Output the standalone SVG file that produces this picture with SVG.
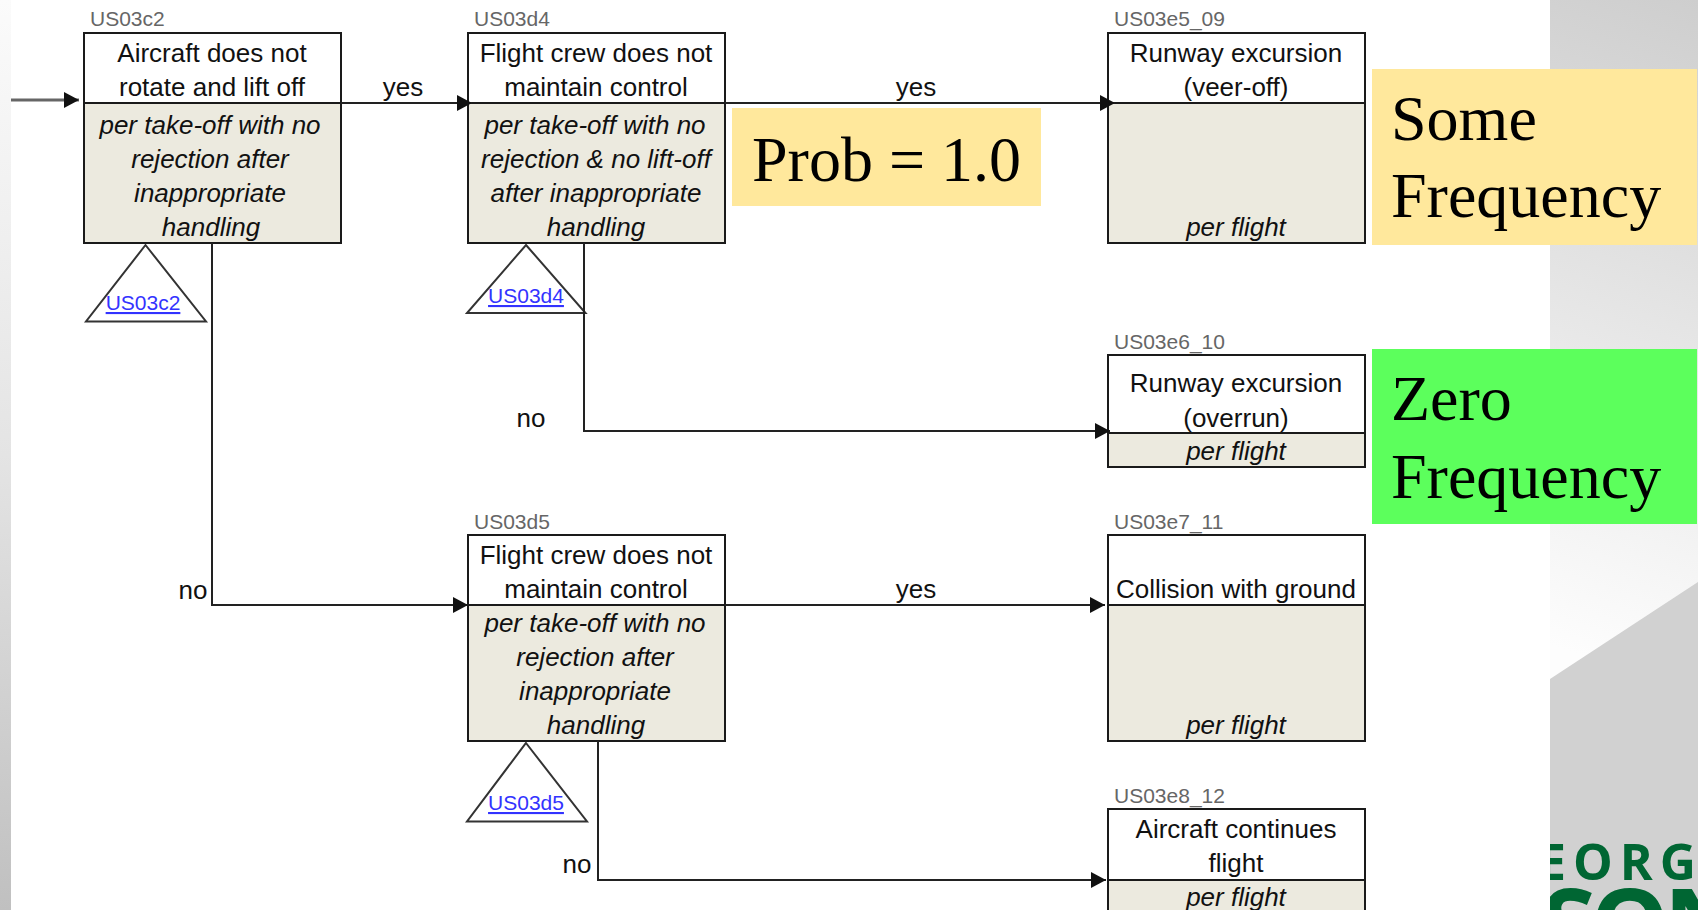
<svg xmlns="http://www.w3.org/2000/svg" width="1698" height="910" viewBox="0 0 1698 910">
<style>
.b{fill:#fff;stroke:none}
.f{fill:#eceadf;stroke:none}
.o{fill:none;stroke:#1a1a1a;stroke-width:2}
.t{font:26px "Liberation Sans",Arial,sans-serif;fill:#111;text-anchor:middle}
.i{font:italic 26px "Liberation Sans",Arial,sans-serif;fill:#111;text-anchor:middle}
.id{font:21px "Liberation Sans",Arial,sans-serif;fill:#666}
.l{font:21px "Liberation Sans",Arial,sans-serif;fill:#3333ff;text-anchor:middle;text-decoration:underline}
.s{font:64px "Liberation Serif","Times New Roman",serif;fill:#000}
.c{fill:none;stroke:#222;stroke-width:2}
.in{fill:none;stroke:#666;stroke-width:3}
.tri{fill:#fff;stroke:#333;stroke-width:2}
</style>
<defs>
<linearGradient id="g" gradientUnits="userSpaceOnUse" x1="1698" y1="0" x2="1480" y2="620">
<stop offset="0" stop-color="#cecece"/><stop offset="0.5" stop-color="#e6e6e6"/><stop offset="1" stop-color="#fdfdfd"/>
</linearGradient>
<linearGradient id="lg" x1="0" y1="0" x2="0" y2="1">
<stop offset="0" stop-color="#fbfbfb"/><stop offset="0.5" stop-color="#e4e4e4"/><stop offset="1" stop-color="#c0c0c0"/>
</linearGradient>
<marker id="a" markerUnits="userSpaceOnUse" markerWidth="15" markerHeight="16" refX="15" refY="8" orient="auto"><path d="M0 0L15 8L0 16Z" fill="#111"/></marker>
<clipPath id="cp"><rect x="1550" y="830" width="148" height="80"/></clipPath>
</defs>
<rect width="1698" height="910" fill="#fff"/>
<g id="background">
<rect x="0" y="0" width="11" height="910" fill="url(#lg)"/>
<rect x="1550" y="0" width="148" height="910" fill="url(#g)"/>
<path d="M1550 679L1698 582V910H1550Z" fill="#d1d1d1"/>
<g clip-path="url(#cp)" fill="#006633" font-family="'Open Sans','Noto Sans',sans-serif" font-weight="700">
<text x="1538" y="880" font-size="50" letter-spacing="7">EORG</text>
<text x="1541" y="961" font-size="100" letter-spacing="-6">SON</text>
</g>
</g>
<g id="US03c2">
<text class="id" x="90" y="26">US03c2</text>
<rect class="b" x="84" y="33" width="257" height="70"/><rect class="f" x="84" y="103" width="257" height="140"/>
<rect class="o" x="84" y="33" width="257" height="210"/><path class="o" d="M84 103H341"/>
<text class="t" x="212" y="62">Aircraft does not</text><text class="t" x="212" y="96">rotate and lift off</text>
<text class="i" x="210" y="134">per take-off with no</text><text class="i" x="210" y="168">rejection after</text><text class="i" x="210" y="202">inappropriate</text><text class="i" x="211" y="236">handling</text>
<path class="tri" d="M145.500 245L206 321.500H86Z"/><text class="l" x="143" y="310">US03c2</text>
</g>
<g id="US03d4">
<text class="id" x="474" y="26">US03d4</text>
<rect class="b" x="468" y="33" width="257" height="70"/><rect class="f" x="468" y="103" width="257" height="140"/>
<rect class="o" x="468" y="33" width="257" height="210"/><path class="o" d="M468 103H725"/>
<text class="t" x="596" y="62">Flight crew does not</text><text class="t" x="596" y="96">maintain control</text>
<text class="i" x="595" y="134">per take-off with no</text><text class="i" x="596" y="168">rejection &amp; no lift-off</text><text class="i" x="596" y="202">after inappropriate</text><text class="i" x="596" y="236">handling</text>
<path class="tri" d="M526 245L585.500 313H467Z"/><text class="l" x="526" y="303">US03d4</text>
</g>
<g id="US03e5_09">
<text class="id" x="1114" y="26">US03e5_09</text>
<rect class="b" x="1108" y="33" width="257" height="70"/><rect class="f" x="1108" y="103" width="257" height="140"/>
<rect class="o" x="1108" y="33" width="257" height="210"/><path class="o" d="M1108 103H1365"/>
<text class="t" x="1236" y="62">Runway excursion</text><text class="t" x="1236" y="96">(veer-off)</text>
<text class="i" x="1236" y="236">per flight</text>
</g>
<g id="US03e6_10">
<text class="id" x="1114" y="349">US03e6_10</text>
<rect class="b" x="1108" y="355" width="257" height="78"/><rect class="f" x="1108" y="433" width="257" height="34"/>
<rect class="o" x="1108" y="355" width="257" height="112"/><path class="o" d="M1108 433H1365"/>
<text class="t" x="1236" y="392">Runway excursion</text><text class="t" x="1236" y="427">(overrun)</text>
<text class="i" x="1236" y="460">per flight</text>
</g>
<g id="US03d5">
<text class="id" x="474" y="529">US03d5</text>
<rect class="b" x="468" y="535" width="257" height="70"/><rect class="f" x="468" y="605" width="257" height="136"/>
<rect class="o" x="468" y="535" width="257" height="206"/><path class="o" d="M468 605H725"/>
<text class="t" x="596" y="564">Flight crew does not</text><text class="t" x="596" y="598">maintain control</text>
<text class="i" x="595" y="632">per take-off with no</text><text class="i" x="595" y="666">rejection after</text><text class="i" x="595" y="700">inappropriate</text><text class="i" x="596" y="734">handling</text>
<path class="tri" d="M526 743L587 821.500H467Z"/><text class="l" x="526" y="810">US03d5</text>
</g>
<g id="US03e7_11">
<text class="id" x="1114" y="529">US03e7_11</text>
<rect class="b" x="1108" y="535" width="257" height="70"/><rect class="f" x="1108" y="605" width="257" height="136"/>
<rect class="o" x="1108" y="535" width="257" height="206"/><path class="o" d="M1108 605H1365"/>
<text class="t" x="1236" y="598">Collision with ground</text>
<text class="i" x="1236" y="734">per flight</text>
</g>
<g id="US03e8_12">
<text class="id" x="1114" y="803">US03e8_12</text>
<rect class="b" x="1108" y="809" width="257" height="71"/><rect class="f" x="1108" y="880" width="257" height="40"/>
<rect class="o" x="1108" y="809" width="257" height="111"/><path class="o" d="M1108 880H1365"/>
<text class="t" x="1236" y="838">Aircraft continues</text><text class="t" x="1236" y="872">flight</text>
<text class="i" x="1236" y="906">per flight</text>
</g>
<g id="connectors">
<path class="in" d="M11 100H79" marker-end="url(#a)"/>
<path class="c" d="M341 103H472" marker-end="url(#a)"/>
<path class="c" d="M725 103H1115" marker-end="url(#a)"/>
<path class="c" d="M584 243V431H1110" marker-end="url(#a)"/>
<path class="c" d="M212 243V605H468" marker-end="url(#a)"/>
<path class="c" d="M725 605H1105" marker-end="url(#a)"/>
<path class="c" d="M598 741V880H1106" marker-end="url(#a)"/>
<text class="t" x="403" y="96">yes</text>
<text class="t" x="916" y="96">yes</text>
<text class="t" x="916" y="598">yes</text>
<text class="t" x="531" y="427">no</text>
<text class="t" x="193" y="599">no</text>
<text class="t" x="577" y="873">no</text>
</g>
<g id="prob"><rect x="732" y="108" width="309" height="98" fill="#ffe89c"/><text class="s" x="752" y="181">Prob = 1.0</text></g>
<g id="some"><rect x="1372" y="69" width="325" height="176" fill="#ffe89c"/><text class="s" x="1391" y="140">Some</text><text class="s" x="1391" y="217">Frequency</text></g>
<g id="zero"><rect x="1372" y="349" width="325" height="175" fill="#5cff5c"/><text class="s" x="1391" y="420">Zero</text><text class="s" x="1391" y="498">Frequency</text></g>
</svg>
